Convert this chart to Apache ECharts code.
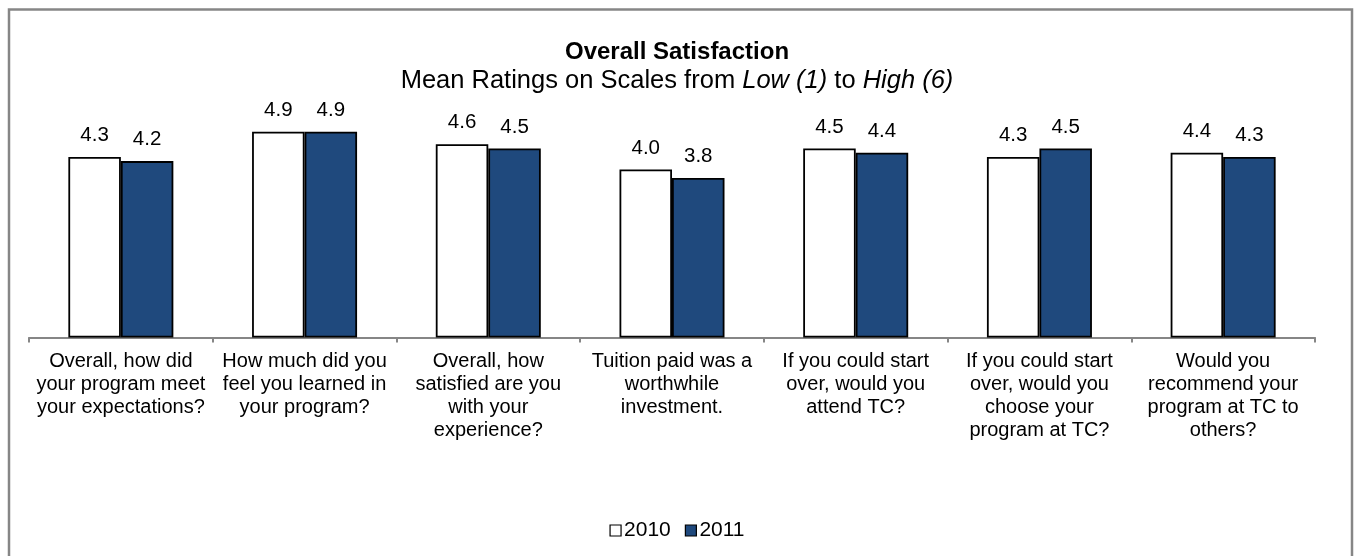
<!DOCTYPE html>
<html>
<head>
<meta charset="utf-8">
<script src="https://cdn.jsdelivr.net/npm/echarts@6/dist/echarts.min.js"></script>
<style>
  html, body { margin: 0; padding: 0; background: #fff; }
  #chart { width: 1354px; height: 556px; }
</style>
</head>
<body>
<div id="chart"></div>
<script>
// Survey questions (x-axis categories), wrapped as printed
const categories = [
  'Overall, how did\nyour program meet\nyour expectations?',
  'How much did you\nfeel you learned in\nyour program?',
  'Overall, how\nsatisfied are you\nwith your\nexperience?',
  'Tuition paid was a\nworthwhile\ninvestment.',
  'If you could start\nover, would you\nattend TC?',
  'If you could start\nover, would you\nchoose your\nprogram at TC?',
  'Would you\nrecommend your\nprogram at TC to\nothers?'
];

// Mean ratings per year
const ratings2010 = [4.3, 4.9, 4.6, 4.0, 4.5, 4.3, 4.4];
const ratings2011 = [4.2, 4.9, 4.5, 3.8, 4.4, 4.5, 4.3];

const FONT = "'Liberation Sans', Arial, sans-serif";

const chart = echarts.init(document.getElementById('chart'), null, { renderer: 'canvas' });

const labelStyle = {
  show: true,
  position: 'top',
  distance: 11,
  fontFamily: FONT,
  fontSize: 20.5,
  color: '#000',
  formatter: p => p.value.toFixed(1)
};

chart.setOption({
  animation: false,
  backgroundColor: '#fff',
  textStyle: { fontFamily: FONT },
  graphic: [{
    type: 'rect',
    silent: true,
    shape: { x: 9, y: 9.5, width: 1343, height: 560 },
    style: { fill: 'none', stroke: '#868686', lineWidth: 2.5 }
  }],
  title: [{
    text: 'Overall Satisfaction',
    left: 'center',
    top: 35,
    textStyle: { fontFamily: FONT, fontSize: 24, fontWeight: 'bold', color: '#000' }
  }, {
    text: 'Mean Ratings on Scales from {i|Low (1)} to {i|High (6)}',
    left: 'center',
    top: 63,
    textStyle: {
      fontFamily: FONT, fontSize: 25.5, fontWeight: 'normal', color: '#000',
      rich: { i: { fontFamily: FONT, fontSize: 25.5, fontStyle: 'italic', color: '#000' } }
    }
  }],
  legend: {
    bottom: 10,
    left: 'center',
    itemWidth: 11,
    itemHeight: 11,
    itemGap: 14,
    icon: 'rect',
    textStyle: { fontFamily: FONT, fontSize: 21, color: '#000', padding: [0, 0, 0, -2] },
    itemStyle: { borderColor: '#000', borderWidth: 1.2 },
    data: ['2010', '2011']
  },
  grid: { left: 29, right: 39, top: 85.5, bottom: 218.5, containLabel: false },
  xAxis: {
    type: 'category',
    data: categories,
    axisLine: { show: true, lineStyle: { color: '#868686', width: 2 } },
    axisTick: { show: true, length: 5, lineStyle: { color: '#868686', width: 2 } },
    axisLabel: {
      interval: 0,
      margin: 12,
      fontFamily: FONT,
      fontSize: 20,
      lineHeight: 23,
      color: '#000',
      align: 'center'
    }
  },
  yAxis: {
    type: 'value',
    min: 0,
    max: 6,
    show: false,
    splitLine: { show: false }
  },
  series: [{
    name: '2010',
    type: 'bar',
    data: ratings2010,
    barWidth: 52.5,
    barGap: '0%',
    itemStyle: { color: '#ffffff', borderColor: '#000', borderWidth: 1.8 },
    label: labelStyle
  }, {
    name: '2011',
    type: 'bar',
    data: ratings2011,
    barWidth: 52.5,
    barGap: '0%',
    itemStyle: { color: '#1F497D', borderColor: '#000', borderWidth: 1.8 },
    label: labelStyle
  }]
});
</script>
</body>
</html>
